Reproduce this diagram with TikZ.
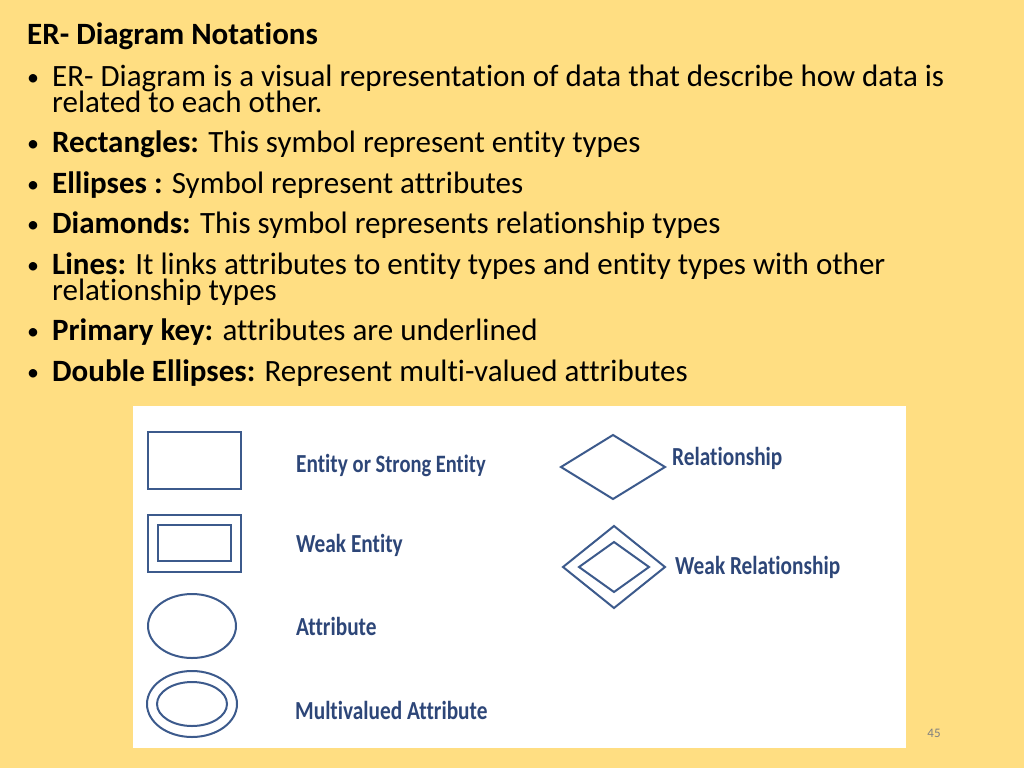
\documentclass[tikz,border=0pt]{standalone}
\usepackage{fontspec}
\setmainfont{Carlito}[Ligatures=CommonOff]
\usetikzlibrary{shapes.geometric}
\definecolor{bg}{RGB}{255,222,130}
\definecolor{sh}{RGB}{60,90,140}
\definecolor{lb}{RGB}{45,70,120}
\tikzset{
  txt/.style={anchor=base west,inner sep=0pt,font=\fontsize{31}{32}\selectfont},
  blt/.style={anchor=base west,inner sep=0pt,font=\fontsize{24}{24}\selectfont},
  lab/.style={anchor=west,inner sep=0pt,text=lb,font=\fontsize{26}{27}\selectfont\bfseries,xscale=0.82},
  shp/.style={draw=sh,line width=2pt},
}
\begin{document}
\begin{tikzpicture}[x=1pt,y=-1pt]
\fill[bg] (0,0) rectangle (1024,768);
\useasboundingbox (0,0) rectangle (1024,768);
\node[txt] (t0) at (27,45) {\textbf{ER- Diagram Notations}};
\node[blt] (b1) at (27,85) {•};
\node[txt] (l1) at (52,86) {ER- Diagram is a visual representation of data that describe how data is};
\node[txt] (l1b) at (52,112) {related to each other.};
\node[blt] (b2) at (27,151) {•};
\node[txt] (l2) at (52,152) {\textbf{Rectangles:} This symbol represent entity types};
\node[blt] (b3) at (27,192) {•};
\node[txt] (l3) at (52,193) {\textbf{Ellipses :} Symbol represent attributes};
\node[blt] (b4) at (27,232) {•};
\node[txt] (l4) at (52,233) {\textbf{Diamonds:} This symbol represents relationship types};
\node[blt] (b5) at (27,273) {•};
\node[txt] (l5) at (52,274) {\textbf{Lines:} It links attributes to entity types and entity types with other};
\node[txt] (l5b) at (52,300) {relationship types};
\node[blt] (b6) at (27,339) {•};
\node[txt] (l6) at (52,340) {\textbf{Primary key:} attributes are underlined};
\node[blt] (b7) at (27,380) {•};
\node[txt] (l7) at (52,381) {\textbf{Double Ellipses:} Represent multi-valued attributes};
\fill[white] (133,406) rectangle (906,748);
\draw[shp] (148,432) rectangle (241,489);
\draw[shp] (148,515) rectangle (241,572);
\draw[shp] (158,525) rectangle (231,561);
\draw[shp] (192,626) ellipse [x radius=44,y radius=32];
\draw[shp] (192,704) ellipse [x radius=45,y radius=33];
\draw[shp] (192,704) ellipse [x radius=35,y radius=22];
\draw[shp] (561,467) -- (613,435) -- (665,467) -- (613,499) -- cycle;
\draw[shp] (563,567) -- (614,526) -- (665,567) -- (614,608) -- cycle;
\draw[shp] (579,567) -- (614,542) -- (649,567) -- (614,592) -- cycle;
\node[lab] (e1) at (296,465) {Entity {\fontsize{25}{26}\selectfont or Strong Entity}};
\node[lab] (e2) at (296,545) {Weak Entity};
\node[lab] (e3) at (296,626) {Attribute};
\node[lab] (e4) at (295,710) {Multivalued Attribute};
\node[lab] (e5) at (672,458) {Relationship};
\node[lab] (e6) at (675,567) {Weak Relationship};
\node[anchor=center,inner sep=0pt,text=gray,font=\fontsize{13}{14}\selectfont] (pg) at (934,733) {45};
\end{tikzpicture}
\end{document}
